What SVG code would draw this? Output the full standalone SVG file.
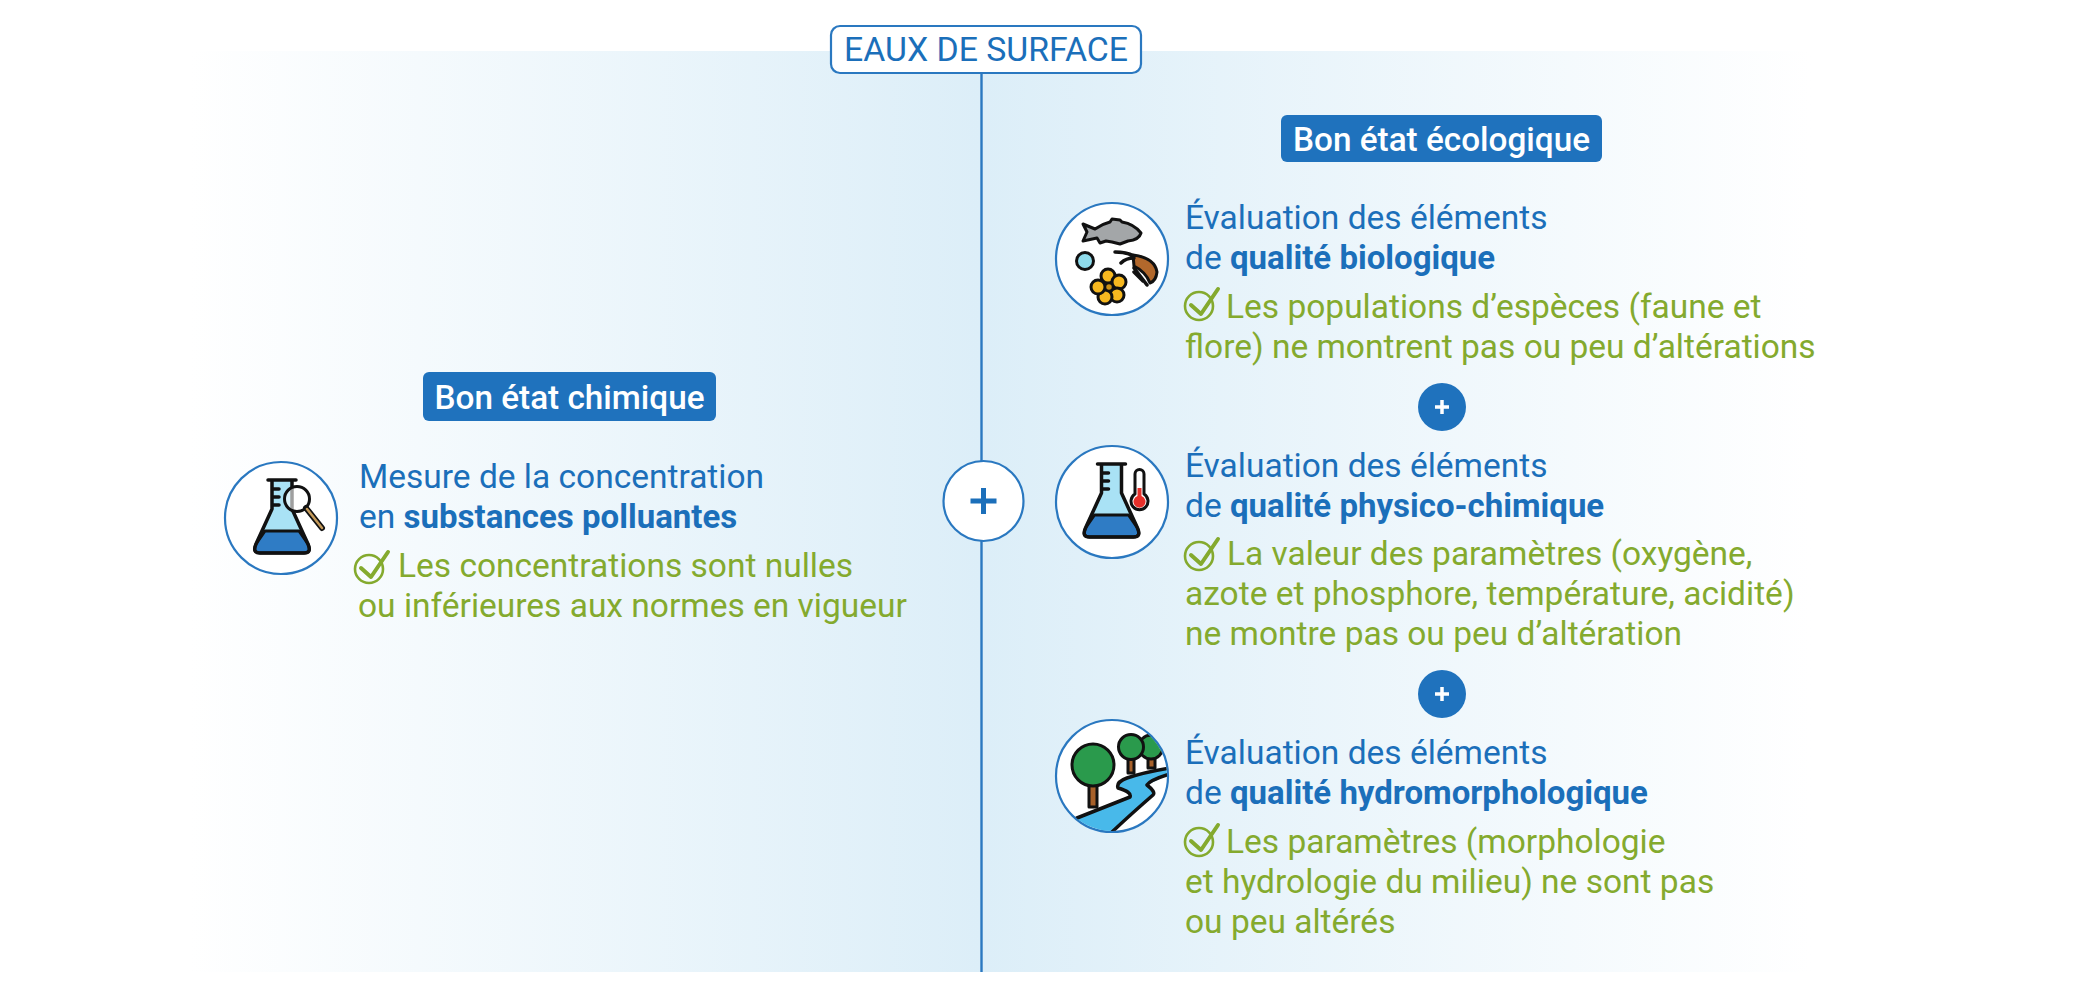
<svg xmlns="http://www.w3.org/2000/svg" width="2078" height="996" viewBox="0 0 2078 996">
<style>
text{font-family:Roboto,"Liberation Sans",sans-serif}
.b{fill:#1b6fba;font-size:33.5px}
.s{font-weight:700;font-size:33px}
.g{fill:#84aa2e;font-size:33.5px}
.h{fill:#fff;font-size:33.3px;font-weight:500;text-anchor:middle}
.c{fill:#fff;stroke:#2a78c0;stroke-width:2.2}
.k{fill:none;stroke:#84aa2e;stroke-width:2.6}
.kk{fill:none;stroke:#84aa2e;stroke-width:4;stroke-linecap:round;stroke-linejoin:round}
.o{stroke:#111;stroke-width:3;stroke-linejoin:round;stroke-linecap:round}
.l{fill:none;stroke:#111;stroke-width:3.5;stroke-linecap:round;stroke-linejoin:round}
</style>
<defs>
<linearGradient id="gl" x1="0" x2="1" y1="0" y2="0"><stop offset="0" stop-color="#fff"/><stop offset="1" stop-color="#dceef8"/></linearGradient>
<linearGradient id="gr" x1="0" x2="1" y1="0" y2="0"><stop offset="0" stop-color="#dceef8"/><stop offset="1" stop-color="#fff"/></linearGradient>
<clipPath id="hc"><circle cx="1112" cy="776" r="55"/></clipPath>
<g id="chk"><circle cx="0" cy="3" r="14" class="k"/><path d="M-8 2L2 11L19 -14" class="kk"/></g>
<g id="flask">
<path d="M-10 -38V-9L-26 22Q-30 35 -22 35H22Q30 35 26 22L10 -9V-38Z" fill="#a9e2f5"/>
<path d="M-17 13H17L26 26Q30 35 22 35H-22Q-30 35 -26 26Z" fill="#2f7cc5" class="o"/>
<path d="M-10 -38V-9L-26 26Q-30 35 -22 35H22Q30 35 26 26L10 -9V-38M-14 -38H14M-10 -29H-3M-10 -21H-3M-10 -13H-3" class="l"/>
</g>
</defs>
<rect width="2078" height="996" fill="#fff"/>
<rect id="band-left" x="190" y="51" width="791" height="921" fill="url(#gl)"/>
<rect id="band-right" x="981" y="51" width="830" height="921" fill="url(#gr)"/>
<g id="connectors"><path d="M981.500 74V972" stroke="#2a78c0" stroke-width="2.400" fill="none"/></g>
<g id="title"><rect x="831" y="26" width="310" height="47" rx="9" class="c"/><text x="986" y="61" text-anchor="middle" fill="#1b6fba" font-size="33.800">EAUX DE SURFACE</text></g>
<g id="plus-main"><circle cx="983.500" cy="501" r="40" class="c"/><path d="M983.500 488V514M970.500 501H996.500" stroke="#1b6fba" stroke-width="5"/></g>
<g id="plus-1"><circle cx="1442" cy="407" r="24" fill="#1f72bd"/><path d="M1442 400V414M1435 407H1449" stroke="#fff" stroke-width="3.500"/></g>
<g id="plus-2"><circle cx="1442" cy="694" r="24" fill="#1f72bd"/><path d="M1442 687V701M1435 694H1449" stroke="#fff" stroke-width="3.500"/></g>
<g id="badge-chimique"><rect x="423" y="372" width="293" height="49" rx="6" fill="#1f72bd"/><text x="569.500" y="409" class="h">Bon état chimique</text></g>
<g id="badge-ecologique"><rect x="1281" y="115" width="321" height="47" rx="6" fill="#1f72bd"/><text x="1441.500" y="151" class="h">Bon état écologique</text></g>
<g id="node-chimique">
<circle cx="281" cy="518" r="56" class="c"/>
<use href="#flask" x="282" y="518"/>
<circle cx="297" cy="499" r="12.500" fill="#fff" fill-opacity=".6" stroke="#111" stroke-width="3"/>
<path d="M306 508L322 528" stroke="#111" stroke-width="6" stroke-linecap="round"/><path d="M307 509L322 528" stroke="#c49a5a" stroke-width="2.500" stroke-linecap="round"/>
<text x="359" y="488" class="b">Mesure de la concentration</text>
<text x="359" y="528" class="b">en <tspan class="s">substances polluantes</tspan></text>
<use href="#chk" x="369" y="566"/>
<text x="398" y="577" class="g">Les concentrations sont nulles</text>
<text x="358" y="617" class="g">ou inférieures aux normes en vigueur</text>
</g>
<g id="node-biologique">
<circle cx="1112" cy="259" r="56" class="c"/>
<path d="M1083 224L1095 229Q1102 224 1110 222L1112 219L1120 220L1122 222Q1134 224 1141 233Q1139 240 1128 241L1120 244L1112 242L1106 241L1100 243L1097 238L1083 241L1087 232Z" fill="#a3a6a8" class="o"/>
<circle cx="1085" cy="261" r="8.500" fill="#8fdcec" class="o"/>
<path d="M1133 255Q1155 258 1157 272Q1156 281 1150 283Q1146 272 1134 266Z" fill="#b2682c" class="o" stroke-width="2.500"/>
<path d="M1115 252Q1126 252 1134 256M1134 258Q1126 258 1121 263M1134 268L1147 285M1134 272L1143 281" class="l" stroke-width="3"/>
<g fill="#f7b81f" class="o"><circle cx="1108" cy="276" r="7"/><circle cx="1119" cy="282" r="7"/><circle cx="1117" cy="295" r="7"/><circle cx="1105" cy="297" r="7"/><circle cx="1098" cy="287" r="7"/><circle cx="1109" cy="287" r="3.500" fill="#c98f16" stroke-width="1.500"/></g>
<text x="1185" y="229" class="b">Évaluation des éléments</text>
<text x="1185" y="269" class="b">de <tspan class="s">qualité biologique</tspan></text>
<use href="#chk" x="1199" y="303"/>
<text x="1226" y="318" class="g">Les populations d’espèces (faune et</text>
<text x="1185" y="358" class="g">flore) ne montrent pas ou peu d’altérations</text>
</g>
<g id="node-physico">
<circle cx="1112" cy="502" r="56" class="c"/>
<use href="#flask" x="1111.500" y="502"/>
<path d="M1135 474a4.500 4.500 0 0 1 9 0v20a8.500 8.500 0 1 1 -9 0Z" fill="#fff" class="o"/>
<path d="M1137.500 488h4v8a6 6 0 1 1 -4 0Z" fill="#e8302a"/>
<text x="1185" y="477" class="b">Évaluation des éléments</text>
<text x="1185" y="517" class="b">de <tspan class="s">qualité physico-chimique</tspan></text>
<use href="#chk" x="1199" y="553"/>
<text x="1227" y="565" class="g">La valeur des paramètres (oxygène,</text>
<text x="1185" y="605" class="g">azote et phosphore, température, acidité)</text>
<text x="1185" y="645" class="g">ne montre pas ou peu d’altération</text>
</g>
<g id="node-hydro">
<circle cx="1112" cy="776" r="56" class="c"/>
<g clip-path="url(#hc)">
<path d="M1077 818L1130 797Q1132 792 1118 788Q1116 782 1127 778Q1145 772 1170 768L1170 774L1147 785Q1156 792 1153 795L1112 832L1075 832Z" fill="#48b9ea"/>
<path d="M1077 818L1130 797Q1132 792 1118 788Q1116 782 1127 778Q1145 772 1170 768M1170 774Q1150 780 1147 785Q1156 792 1153 795Q1130 815 1112 832" class="l"/>
<rect x="1089" y="785" width="8" height="22" fill="#a8612a" class="o" stroke-width="2.500"/>
<circle cx="1093" cy="765" r="21" fill="#2a9a4c" class="o"/>
<rect x="1128" y="757" width="6" height="16" fill="#a8612a" class="o" stroke-width="2.500"/>
<rect x="1148" y="757" width="7" height="11" fill="#a8612a" class="o" stroke-width="2.500"/>
<circle cx="1151" cy="747" r="12" fill="#2a9a4c" class="o"/>
<circle cx="1131" cy="747" r="12.500" fill="#2a9a4c" class="o"/>
</g>
<text x="1185" y="764" class="b">Évaluation des éléments</text>
<text x="1185" y="804" class="b">de <tspan class="s">qualité hydromorphologique</tspan></text>
<use href="#chk" x="1199" y="839"/>
<text x="1226" y="853" class="g">Les paramètres (morphologie</text>
<text x="1185" y="893" class="g">et hydrologie du milieu) ne sont pas</text>
<text x="1185" y="933" class="g">ou peu altérés</text>
</g>
</svg>
